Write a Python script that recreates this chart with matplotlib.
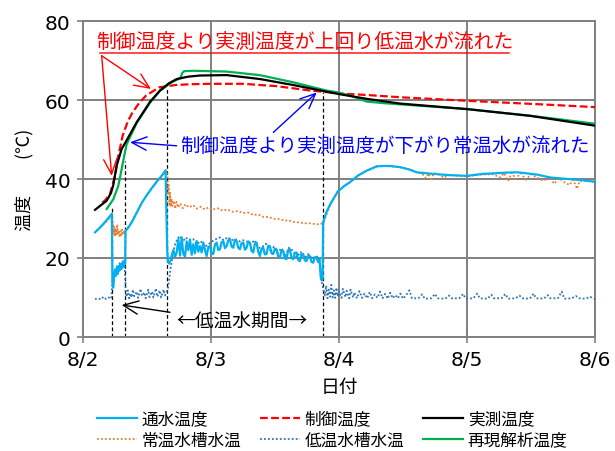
import matplotlib
matplotlib.use('Agg')
import matplotlib.pyplot as plt

plt.rcParams['font.family'] = ['Noto Sans CJK JP', 'DejaVu Sans']

# time axis: day of August (2.0 = 8/2 0:00)
day_ticks = [2, 3, 4, 5, 6]
day_labels = ['8/2', '8/3', '8/4', '8/5', '8/6']
temp_ticks = [0, 20, 40, 60, 80]

# 通水温度 (water temperature through pipe)
tsu_t = [2.094, 2.12, 2.15, 2.18, 2.20, 2.225,
         2.230, 2.236, 2.243, 2.250, 2.257, 2.264, 2.271, 2.278, 2.285, 2.292,
         2.300, 2.308, 2.316, 2.324, 2.329,
         2.332, 2.35, 2.38, 2.42, 2.46, 2.50, 2.54, 2.58, 2.62, 2.645,
         2.658, 2.664, 2.672, 2.684, 2.694,
         2.706, 2.719, 2.732, 2.745, 2.758, 2.771, 2.784, 2.797, 2.810, 2.823,
         2.836, 2.849, 2.862, 2.875, 2.888, 2.901, 2.914, 2.927, 2.940, 2.953,
         2.966, 2.979, 2.992, 3.005, 3.018, 3.031, 3.044, 3.057, 3.070, 3.083,
         3.096, 3.109, 3.122, 3.135, 3.148, 3.161, 3.174, 3.187, 3.200, 3.213,
         3.226, 3.239, 3.252, 3.265, 3.278, 3.291, 3.304, 3.317, 3.330, 3.343,
         3.356, 3.369, 3.382, 3.395, 3.408, 3.421, 3.434, 3.447, 3.460, 3.473,
         3.486, 3.499, 3.512, 3.525, 3.538, 3.551, 3.564, 3.577, 3.590, 3.603,
         3.616, 3.629, 3.642, 3.655, 3.668, 3.681, 3.694, 3.707, 3.720, 3.733,
         3.746, 3.759, 3.772, 3.785, 3.798, 3.811, 3.824, 3.837,
         3.848, 3.858, 3.866, 3.872,
         3.876, 3.90, 3.93, 3.955, 3.99, 4.04, 4.086, 4.15, 4.216, 4.295, 4.35,
         4.40, 4.477, 4.55, 4.607, 4.70, 4.85, 5.0, 5.125, 5.20, 5.30, 5.388,
         5.45, 5.55, 5.648, 5.75, 5.90, 6.0]
tsu_v = [26.5, 27.3, 28.3, 29.4, 30.2, 31.2,
         14.0, 12.5, 15.5, 17.0, 15.5, 17.5, 16.0, 18.0, 16.8, 18.5,
         17.2, 18.8, 17.8, 19.0, 18.5,
         26.9, 27.5, 29.0, 31.5, 34.0, 36.0, 37.8, 39.5, 41.0, 42.2,
         22.0, 19.0, 18.6, 19.3, 20.8,
         22.0, 20.3, 21.5, 24.8, 20.6, 25.2, 21.0, 20.4, 24.2, 22.0,
         24.7, 20.8, 23.5, 21.2, 24.3, 21.6, 23.0, 21.4, 23.9, 22.0,
         20.5, 22.8, 23.0, 21.2, 21.0, 23.4, 23.9, 22.0, 22.2, 24.0,
         24.3, 22.5, 23.0, 24.5, 24.7, 22.9, 22.6, 24.6, 24.3, 22.6,
         22.2, 23.8, 23.9, 22.1, 22.6, 24.2, 23.9, 21.8, 21.4, 23.6,
         23.9, 21.6, 20.5, 22.4, 22.6, 20.9, 21.0, 23.1, 23.0, 21.2,
         21.0, 22.4, 22.2, 20.4, 20.1, 21.9, 21.8, 19.9, 19.7, 22.0,
         22.2, 20.0, 19.7, 21.3, 21.4, 19.5, 19.2, 21.0, 21.0, 19.4,
         19.2, 20.6, 20.5, 19.0, 18.8, 20.2, 20.1, 19.0,
         19.7, 15.0, 14.3, 14.8,
         29.0, 31.5, 33.5, 34.9, 36.8, 38.2, 39.2, 40.9, 42.1, 43.2, 43.3,
         43.3, 43.0, 42.4, 41.7, 41.4, 41.0, 40.8, 41.3, 41.4, 41.6, 41.7,
         41.5, 41.1, 40.4, 40.1, 39.7, 39.3]

# 制御温度 (control temperature)
ctrl_t = [2.15, 2.172, 2.211, 2.25, 2.276, 2.31, 2.35, 2.388, 2.44, 2.492,
          2.594, 2.725, 2.85, 2.992, 3.252, 3.513, 3.773, 4.033, 4.25,
          4.477, 5.0, 5.516, 6.0]
ctrl_v = [34.0, 34.6, 36.2, 40.8, 45.9, 51.0, 54.6, 56.9, 59.3, 61.1,
          63.2, 63.8, 64.0, 64.1, 64.1, 63.5, 62.4, 61.6, 61.2,
          60.7, 59.8, 59.0, 58.2]

# 実測温度 (measured temperature)
meas_t = [2.094, 2.185, 2.219, 2.237, 2.263, 2.302, 2.341, 2.42, 2.523,
          2.602, 2.67, 2.732, 2.82, 2.914, 3.123, 3.383, 3.641, 3.904, 4.0,
          4.216, 4.477, 5.0, 5.49, 6.0]
meas_v = [32.2, 34.5, 36.5, 38.5, 43.4, 47.6, 49.8, 54.4, 59.5,
          62.4, 64.2, 65.3, 65.9, 66.2, 66.3, 65.3, 63.8, 62.1, 61.5,
          60.3, 59.1, 57.7, 56.0, 53.5]

# 常温水槽水温 (normal-temperature tank)
norm_t = [2.11, 2.14, 2.17, 2.20, 2.225,
          2.232, 2.238, 2.244, 2.25, 2.256, 2.262, 2.268, 2.274, 2.28, 2.286,
          2.292, 2.298, 2.304, 2.31, 2.316, 2.322, 2.328,
          2.333, 2.38, 2.46, 2.54, 2.62, 2.65, 2.66,
          2.665, 2.67, 2.675, 2.68, 2.686, 2.692, 2.70, 2.71, 2.72, 2.73,
          2.745, 2.76, 2.78, 2.80, 2.83, 2.86, 2.89, 2.92, 2.95, 2.98, 3.01,
          3.05, 3.09, 3.13, 3.17, 3.21, 3.25, 3.29, 3.33, 3.37, 3.41, 3.45,
          3.49, 3.53, 3.57, 3.61, 3.65, 3.69, 3.73, 3.77, 3.81, 3.85, 3.87,
          3.88, 3.93, 3.99, 4.04, 4.086, 4.15, 4.216, 4.295, 4.35, 4.40,
          4.477, 4.55, 4.607, 4.65, 4.68, 4.70, 4.72, 4.74, 4.78, 4.82, 4.85,
          4.90, 4.95, 5.0, 5.10, 5.20, 5.26, 5.29, 5.32, 5.35, 5.38, 5.42,
          5.46, 5.50, 5.55, 5.60, 5.64, 5.68, 5.72, 5.76, 5.80, 5.83, 5.86,
          5.88, 5.92, 5.96, 6.0]
norm_v = [27.0, 27.9, 28.8, 29.8, 31.0,
          29.5, 26.0, 28.0, 25.5, 27.5, 26.0, 28.5, 25.8, 27.0, 25.2,
          26.8, 25.5, 27.2, 25.8, 27.0, 26.0, 27.0,
          27.0, 29.0, 34.0, 37.8, 41.0, 42.2, 41.0,
          36.0, 38.5, 33.5, 36.5, 33.0, 35.0, 33.2, 34.5, 32.5, 34.2,
          32.8, 33.8, 32.6, 33.6, 32.8, 33.4, 32.5, 33.0, 32.3, 32.8, 32.2,
          32.6, 32.0, 32.3, 31.7, 31.9, 31.4, 31.5, 30.9, 31.0, 30.4, 30.4,
          29.9, 29.9, 29.5, 29.5, 29.1, 29.0, 28.8, 28.8, 28.6, 28.5, 28.8,
          29.0, 33.5, 36.8, 38.2, 39.2, 40.9, 42.1, 43.2, 43.3, 43.2,
          43.0, 42.4, 41.7, 41.3, 40.2, 41.4, 39.5, 41.5, 41.2, 40.3, 41.0,
          40.9, 40.8, 40.7, 41.1, 41.2, 40.4, 41.5, 39.5, 41.6, 40.0, 41.5,
          39.8, 41.2, 40.3, 39.5, 40.6, 38.8, 40.2, 39.2, 38.5, 39.8, 37.5,
          39.5, 39.6, 39.5, 39.2]

# 低温水槽水温 (low-temperature tank)
low_t = [2.094, 2.12, 2.14, 2.16, 2.18, 2.20, 2.22,
         2.23, 2.236, 2.25, 2.264, 2.278, 2.292, 2.308, 2.324,
         2.334, 2.34, 2.35, 2.36, 2.37, 2.38, 2.39, 2.40, 2.42, 2.43, 2.45,
         2.46, 2.48, 2.49, 2.51, 2.52, 2.54, 2.55, 2.57, 2.58, 2.60, 2.61,
         2.63, 2.64, 2.655,
         2.665, 2.675, 2.685, 2.695, 2.705,
         2.72, 2.74, 2.76, 2.78, 2.80, 2.83, 2.86, 2.89, 2.92, 2.95, 2.98,
         3.01, 3.04, 3.07, 3.10, 3.13, 3.16, 3.19, 3.22, 3.25, 3.28, 3.31,
         3.34, 3.37, 3.40, 3.43, 3.46, 3.49, 3.52, 3.55, 3.58, 3.61, 3.64,
         3.67, 3.70, 3.73, 3.76, 3.79, 3.82, 3.845,
         3.86, 3.875,
         3.89, 3.90, 3.91, 3.92, 3.93, 3.94, 3.95, 3.96, 3.97, 3.98, 3.99,
         4.00, 4.02, 4.03, 4.05, 4.06, 4.08, 4.09, 4.11, 4.12, 4.14, 4.16,
         4.18, 4.20, 4.22, 4.24, 4.26, 4.28, 4.30, 4.32, 4.34, 4.36, 4.38,
         4.40, 4.42, 4.44, 4.46, 4.48, 4.50, 4.52, 4.55, 4.57, 4.62, 4.65,
         4.67, 4.72, 4.75, 4.77, 4.83, 4.86, 4.88, 4.94, 4.97, 4.99, 5.05,
         5.08, 5.10, 5.16, 5.19, 5.21, 5.27, 5.30, 5.32, 5.38, 5.41, 5.43,
         5.49, 5.52, 5.54, 5.60, 5.63, 5.65, 5.71, 5.74, 5.76, 5.82, 5.85,
         5.87, 5.93, 5.96, 6.0]
low_v = [9.6, 9.8, 9.5, 10.2, 9.6, 10.0, 9.7,
         14.0, 13.0, 17.3, 17.8, 18.3, 18.8, 19.1, 19.3,
         11.5, 10.2, 11.8, 9.8, 11.0, 10.0, 12.0, 10.3, 11.5, 9.9, 12.2,
         10.4, 11.3, 9.8, 12.0, 10.1, 11.5, 10.0, 12.3, 10.2, 11.8, 10.0,
         12.0, 10.5, 11.5,
         12.5, 15.0, 17.5, 19.5, 21.5,
         23.5, 25.0, 25.6, 24.0, 25.2, 24.5, 24.8, 23.5, 24.3, 22.8, 23.5,
         24.2, 24.8, 25.2, 24.5, 25.3, 24.5, 24.8, 24.2, 24.5, 24.2, 23.5,
         24.5, 22.5, 22.8, 23.6, 22.0, 22.8, 21.2, 22.5, 20.5, 22.6, 21.8,
         20.2, 21.5, 20.0, 21.0, 19.8, 20.5, 20.0,
         14.5, 12.5,
         10.5, 13.0, 9.8, 12.0, 10.2, 13.2, 10.0, 11.8, 9.9, 12.5, 10.3,
         11.6, 9.9, 12.2, 10.1, 11.7, 9.8, 12.0, 10.0, 11.3, 9.8, 11.6,
         9.9, 11.0, 9.8, 11.4, 9.8, 10.8, 9.9, 11.5, 9.8, 10.9, 9.7,
         11.2, 9.8, 10.6, 9.8, 11.0, 9.7, 10.4, 11.8, 9.8, 9.8, 10.8,
         9.7, 9.8, 10.9, 9.8, 9.7, 10.5, 9.8, 9.8, 10.9, 9.7, 9.8,
         11.0, 9.8, 9.7, 10.7, 9.8, 9.8, 10.9, 9.7, 9.8, 10.5, 9.8,
         9.7, 11.0, 9.8, 9.7, 10.6, 9.8, 9.8, 11.5, 9.7, 9.8, 10.4,
         9.8, 9.7, 10.2, 9.6]

# 再現解析温度 (reproduction analysis)
sim_t = [2.185, 2.237, 2.276, 2.302, 2.328, 2.341, 2.42, 2.523, 2.602,
         2.70, 2.76, 2.775, 2.79, 2.86, 3.12, 3.38, 3.64, 3.90, 3.98,
         4.09, 4.216, 4.35, 4.477, 5.0, 5.5, 6.0]
sim_v = [32.4, 34.9, 38.3, 42.5, 46.8, 48.8, 54.2, 59.3, 62.4,
         64.6, 65.5, 66.8, 67.3, 67.4, 67.2, 66.3, 64.5, 62.4, 62.0,
         61.1, 59.6, 59.2, 58.9, 57.7, 56.0, 54.0]

# dashed markers of the low-temperature water periods
period_t = [2.229, 2.33, 2.655, 3.875]
period_top = [33.0, 44.5, 63.3, 62.0]

fig = plt.figure(figsize=(6.15, 4.52), dpi=100)
ax = fig.add_axes([83 / 615, 1 - 338 / 452, 512 / 615, 316 / 452])

ax.vlines(period_t, 0, period_top, colors='black',
          linestyles=(0, (3, 2)), lw=0.9, zorder=2)

l_norm, = ax.plot(norm_t, norm_v, color='#ED7D31', ls=(0, (1, 1.2)), lw=1.3,
                  label='常温水槽水温', zorder=3)
l_low, = ax.plot(low_t, low_v, color='#2E75B6', ls=(0, (1, 1.2)), lw=1.3,
                 label='低温水槽水温', zorder=3)
l_tsu, = ax.plot(tsu_t, tsu_v, color='#00B0F0', lw=1.6, label='通水温度', zorder=4)
l_ctrl, = ax.plot(ctrl_t, ctrl_v, color='#FF0000', ls=(0, (3.5, 1.5)), lw=1.6,
                  label='制御温度', zorder=5)
l_sim, = ax.plot(sim_t, sim_v, color='#00B050', lw=1.6, label='再現解析温度', zorder=5)
l_meas, = ax.plot(meas_t, meas_v, color='black', lw=1.6, label='実測温度', zorder=6)

ax.set_xlim(2, 6)
ax.set_ylim(0, 80)
ax.set_xticks(day_ticks, day_labels)
ax.set_yticks(temp_ticks)
ax.grid(True, color='#808080', lw=1.4)
ax.set_axisbelow(True)
for s in ax.spines.values():
    s.set_color('#808080')
    s.set_linewidth(1.4)
ax.tick_params(direction='inout', length=8, width=1.2, color='#808080',
               labelsize=14.5, pad=5)
for lab in ax.get_xticklabels() + ax.get_yticklabels():
    lab.set_family('DejaVu Sans')

ax.set_xlabel('日付', fontsize=13.5)
ax.xaxis.set_label_coords(0.5, -0.125)
ax.set_ylabel('温度\u3000\u3000(℃)', fontsize=13)
ax.yaxis.set_label_coords(-0.096, 0.5)

# annotations
ax.text(3.73, 74.7, '制御温度より実測温度が上回り低温水が流れた', color='red',
        fontsize=14.3, ha='center', va='center')
ax.annotate('', xy=(5.352, 71.9), xytext=(2.109, 71.9),
            arrowprops=dict(arrowstyle='-', color='red', lw=1))
red_arrow = dict(arrowstyle='->,head_length=0.9,head_width=0.4', color='red',
                 lw=1, shrinkA=0, shrinkB=0, mutation_scale=12)
ax.annotate('', xy=(2.531, 62.8), xytext=(2.146, 71.2), arrowprops=red_arrow)
ax.annotate('', xy=(2.224, 40.8), xytext=(2.146, 71.2), arrowprops=red_arrow)

ax.text(4.36, 48.4, '制御温度より実測温度が下がり常温水が流れた', color='#0000FF',
        fontsize=14, ha='center', va='center')
blue_arrow = dict(arrowstyle='->,head_length=0.9,head_width=0.4', color='#0000FF',
                  lw=1, shrinkA=0, shrinkB=0, mutation_scale=12)
ax.annotate('', xy=(2.367, 49.3), xytext=(2.732, 48.4), arrowprops=blue_arrow)
ax.annotate('', xy=(3.826, 61.9), xytext=(3.487, 51.8), arrowprops=blue_arrow)

ax.text(3.24, 4.1, '←低温水期間→', color='black', fontsize=13.5,
        ha='center', va='center')
ax.annotate('', xy=(2.302, 8.1), xytext=(2.68, 6.25),
            arrowprops=dict(arrowstyle='->,head_length=0.9,head_width=0.4',
                            color='black', lw=1, shrinkA=0, shrinkB=0,
                            mutation_scale=12))

handles = [l_tsu, l_norm, l_ctrl, l_low, l_meas, l_sim]
fig.legend(handles=handles, labels=[h.get_label() for h in handles],
           ncol=3, loc='upper center', bbox_to_anchor=(332 / 615, 1 - 403 / 452),
           frameon=False, fontsize=12, handlelength=2.4, handletextpad=0.3,
           columnspacing=1.1, labelspacing=0.25, borderpad=0)

fig.savefig('out.png', dpi=100)
